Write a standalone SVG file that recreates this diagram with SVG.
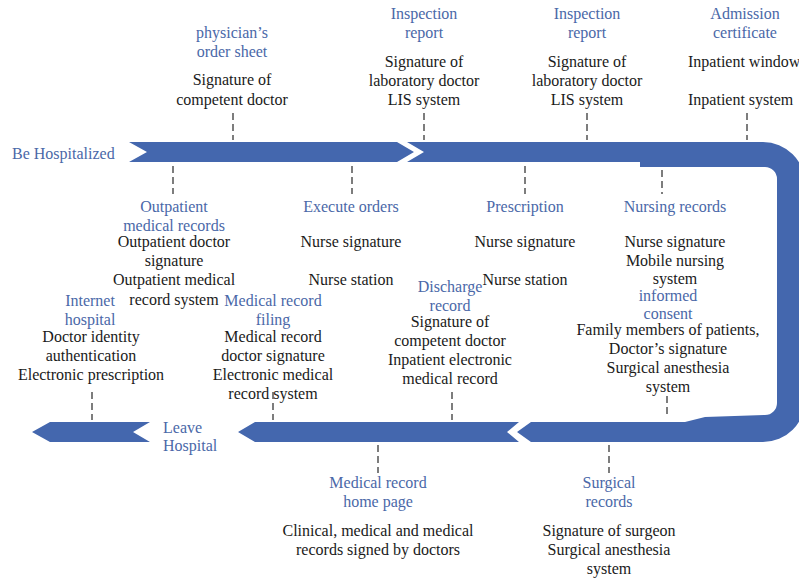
<svg xmlns="http://www.w3.org/2000/svg" width="799" height="580" viewBox="0 0 799 580">
<style>
text{font-family:"Liberation Serif","DejaVu Serif",serif;font-size:16px;text-anchor:middle;fill:#1a1a1a}
.b{fill:#4a68a8}
.s{text-anchor:start}
.band{fill:#4467ae}
.dash{stroke:#7d7d7d;stroke-width:2;stroke-dasharray:7 4;fill:none}
</style>
<rect width="799" height="580" fill="#ffffff"/>
<g id="flow">
<path class="band" d="M129,142 L397,142 L414,152 L397,162 L129,162 L147,152 Z"/>
<path class="band" d="M407,142 L763,142 A42,42 0 0 1 805,184 L805,400 A42,42 0 0 1 763,442 L531,442 L517,432 L531,422 L685,422 L705,417 L765,415 A12,12 0 0 0 777,403 L777,179 A12,12 0 0 0 765,167 L640,167 L640,162 L407,162 L424,152 Z"/>
<path class="band" d="M238,432 L255,422 L519,422 L507,432 L519,442 L255,442 Z"/>
<path class="band" d="M32,432 L50,422 L150,422 L133,432 L150,442 L50,442 Z"/>
</g>
<g id="connectors">
<line class="dash" x1="233" y1="113" x2="233" y2="140"/>
<line class="dash" x1="424" y1="113" x2="424" y2="140"/>
<line class="dash" x1="587" y1="113" x2="587" y2="140"/>
<line class="dash" x1="747" y1="113" x2="747" y2="140"/>
<line class="dash" x1="173" y1="166" x2="173" y2="194"/>
<line class="dash" x1="352" y1="166" x2="352" y2="194"/>
<line class="dash" x1="525" y1="166" x2="525" y2="194"/>
<line class="dash" x1="662" y1="170" x2="662" y2="194"/>
<line class="dash" x1="92" y1="392" x2="92" y2="420"/>
<line class="dash" x1="273" y1="392" x2="273" y2="420"/>
<line class="dash" x1="452" y1="392" x2="452" y2="420"/>
<line class="dash" x1="667" y1="396" x2="667" y2="415"/>
<line class="dash" x1="378" y1="445" x2="378" y2="473"/>
<line class="dash" x1="609" y1="445" x2="609" y2="473"/>
</g>
<g id="start"><text class="b s" x="12" y="159">Be Hospitalized</text></g>
<g id="leave"><text class="b s" x="163" y="433">Leave</text><text class="b s" x="163" y="451">Hospital</text></g>
<g id="physician-order">
<text class="b" x="232" y="38">physician’s</text><text class="b" x="232" y="57">order sheet</text>
<text x="232" y="85">Signature of</text><text x="232" y="105">competent doctor</text>
</g>
<g id="inspection-1">
<text class="b" x="424" y="19">Inspection</text><text class="b" x="424" y="38">report</text>
<text x="424" y="67">Signature of</text><text x="424" y="86">laboratory doctor</text><text x="424" y="105">LIS system</text>
</g>
<g id="inspection-2">
<text class="b" x="587" y="19">Inspection</text><text class="b" x="587" y="38">report</text>
<text x="587" y="67">Signature of</text><text x="587" y="86">laboratory doctor</text><text x="587" y="105">LIS system</text>
</g>
<g id="admission">
<text class="b" x="745" y="19">Admission</text><text class="b" x="745" y="38">certificate</text>
<text class="s" x="688" y="67">Inpatient window</text><text class="s" x="688" y="105">Inpatient system</text>
</g>
<g id="outpatient">
<text class="b" x="174" y="212">Outpatient</text><text class="b" x="174" y="231">medical records</text>
<text x="174" y="247">Outpatient doctor</text><text x="174" y="266">signature</text>
<text x="174" y="285">Outpatient medical</text><text x="174" y="305">record system</text>
</g>
<g id="execute-orders">
<text class="b" x="351" y="212">Execute orders</text>
<text x="351" y="247">Nurse signature</text><text x="351" y="285">Nurse station</text>
</g>
<g id="prescription">
<text class="b" x="525" y="212">Prescription</text>
<text x="525" y="247">Nurse signature</text><text x="525" y="285">Nurse station</text>
</g>
<g id="nursing-records">
<text class="b" x="675" y="212">Nursing records</text>
<text x="675" y="247">Nurse signature</text><text x="675" y="266">Mobile nursing</text><text x="675" y="284">system</text>
</g>
<g id="informed-consent">
<text class="b" x="668" y="301">informed</text><text class="b" x="668" y="319">consent</text>
<text x="668" y="335">Family members of patients,</text><text x="668" y="354">Doctor’s signature</text>
<text x="668" y="373">Surgical anesthesia</text><text x="668" y="392">system</text>
</g>
<g id="discharge-record">
<text class="b" x="450" y="292">Discharge</text><text class="b" x="450" y="311">record</text>
<text x="450" y="327">Signature of</text><text x="450" y="346">competent doctor</text>
<text x="450" y="365">Inpatient electronic</text><text x="450" y="384">medical record</text>
</g>
<g id="internet-hospital">
<text class="b" x="90" y="306">Internet</text><text class="b" x="90" y="325">hospital</text>
<text x="91" y="342">Doctor identity</text><text x="91" y="361">authentication</text><text x="91" y="380">Electronic prescription</text>
</g>
<g id="record-filing">
<text class="b" x="273" y="306">Medical record</text><text class="b" x="273" y="325">filing</text>
<text x="273" y="342">Medical record</text><text x="273" y="361">doctor signature</text>
<text x="273" y="380">Electronic medical</text><text x="273" y="399">record system</text>
</g>
<g id="home-page">
<text class="b" x="378" y="488">Medical record</text><text class="b" x="378" y="507">home page</text>
<text x="378" y="536">Clinical, medical and medical</text><text x="378" y="555">records signed by doctors</text>
</g>
<g id="surgical-records">
<text class="b" x="609" y="488">Surgical</text><text class="b" x="609" y="507">records</text>
<text x="609" y="536">Signature of surgeon</text><text x="609" y="555">Surgical anesthesia</text><text x="609" y="574">system</text>
</g>
</svg>
